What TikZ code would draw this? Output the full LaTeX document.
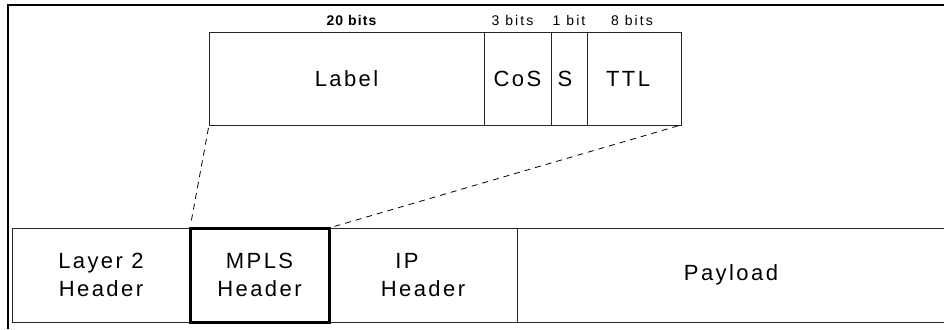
\documentclass[tikz,border=0pt]{standalone}
\usepackage{fontspec}
\setmainfont{Liberation Sans}
\newfontfamily\largo[LetterSpace=11]{Liberation Sans}
\newfontfamily\piccolo[LetterSpace=15]{Liberation Sans}
\newfontfamily\grassetto[LetterSpace=8]{Liberation Sans Bold}
\usetikzlibrary{positioning}

\begin{document}
\begin{tikzpicture}[x=1pt,y=-1pt,
    campo/.style={draw=black!85, line width=1pt, inner sep=0pt, outer sep=0pt,
        align=center, font=\largo\fontsize{22}{28}\selectfont},
    alto/.style={campo, minimum height=92pt},
    basso/.style={campo, minimum height=94pt},
    bits/.style={inner sep=0pt, font=\piccolo\fontsize{14}{16}\selectfont},
    zoomline/.style={dashed, line width=0.8pt, dash pattern=on 6pt off 5pt,
        shorten <=3pt, shorten >=3pt}]

    \useasboundingbox (0,0) rectangle (944,329);
    \clip (0,0) rectangle (944,329);

    % Cornice
    \draw[line width=1.2pt] (8,329) -- (8,5) -- (944,5);

    % Intestazione MPLS
    \node[alto, minimum width=275pt, anchor=north west] (label) at (209,33) {Label};
    \node[alto, minimum width=67pt, right=0pt of label] (cos) {CoS};
    \node[alto, minimum width=36pt, right=0pt of cos] (s) {\hspace*{-8pt}S};
    \node[alto, minimum width=94pt, right=0pt of s] (ttl) {TTL\hspace*{12pt}};

    % Bit
    \node[bits, font=\grassetto\fontsize{14}{16}\selectfont, above=7pt of label, xshift=5pt] (b20) {20 bits};
    \node[bits, above=7pt of cos, xshift=-5pt] (b3) {3 bits};
    \node[bits, above=7pt of s] (b1) {1 bit};
    \node[bits, above=7pt of ttl, xshift=-2pt] (b8) {8 bits};

    % Pacchetto
    \node[basso, minimum width=178pt, anchor=north west] (l2) at (12,228) {Layer 2\\Header};
    \node[basso, minimum width=139pt, right=0pt of l2] (mpls) {MPLS\\Header};
    \node[basso, minimum width=188pt, right=0pt of mpls] (ip) {IP\hspace*{32pt}\\Header};
    \node[basso, minimum width=440pt, right=0pt of ip] (payload) {Payload\hspace*{12pt}};
    \draw[line width=3pt] (mpls.north west) rectangle (mpls.south east);

    % Linee tratteggiate
    \draw[zoomline] (label.south west) -- (mpls.north west);
    \draw[zoomline] (ttl.south east) -- (mpls.north east);

\end{tikzpicture}
\end{document}
